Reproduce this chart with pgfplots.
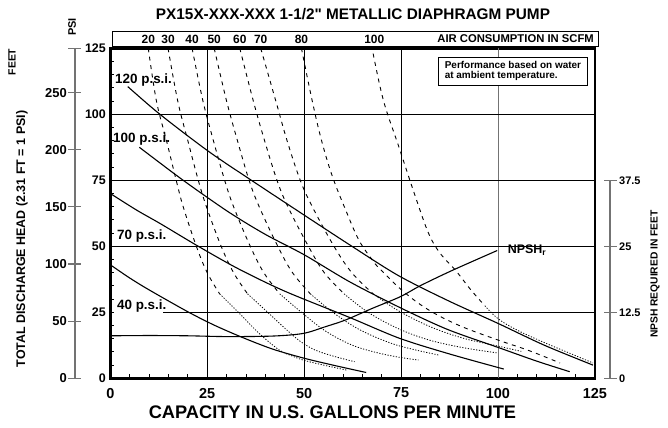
\documentclass[border=0pt]{standalone}
\usepackage{pgfplots}
\pgfplotsset{compat=1.18}
\usepackage{fontspec}
\setmainfont{Liberation Sans}
\newcommand{\fs}[1]{\fontsize{#1}{#1}\selectfont\bfseries}
\newcommand{\sq}{\XeTeXglyph\XeTeXcharglyph"22\relax}
\begin{document}
\begin{tikzpicture}
\path[use as bounding box] (-110.3bp,-49.7bp) rectangle (557.7bp,378.3bp);
% ---------- main axis (PSI vs GPM) ----------
\begin{axis}[
  at={(0,0)}, anchor=south west,
  scale only axis, width=484.6bp, height=330bp,
  xmin=0, xmax=125, ymin=0, ymax=125,
  clip mode=individual,
  axis line style={line width=2.6bp, black},
  xtick={0,25,...,125}, ytick={0,25,...,125},
  minor x tick num=4, minor y tick num=4,
  tick align=inside, xtick pos=left, ytick pos=left,
  major tick length=4bp, minor tick length=4bp,
  tick style={black, line width=0.8bp},
  /pgf/number format/assume math mode=true,
  xticklabel style={font=\fs{14.5}, inner ysep=0pt, yshift=-9.5bp},
  yticklabel style={font=\fs{12.5}, inner xsep=0pt, xshift=-4.3bp},
]
% grid lines
\draw[line width=0.9bp] (axis cs:25,0) -- (axis cs:25,125);
\draw[line width=0.9bp] (axis cs:50,0) -- (axis cs:50,125);
\draw[line width=0.9bp] (axis cs:75,0) -- (axis cs:75,125);
\draw[line width=0.9bp, black!55] (axis cs:100,0) -- (axis cs:100,125);
\draw[line width=0.9bp] (axis cs:0,100) -- (axis cs:125,100);
\draw[line width=0.9bp] (axis cs:0,75) -- (axis cs:125,75);
\draw[line width=0.9bp] (axis cs:0,50) -- (axis cs:125,50);
\draw[line width=0.9bp] (axis cs:13.6,25) -- (axis cs:125,25);

% ---------- air consumption curves (SCFM) ----------
\pgfplotsset{scfm/.style={black, line width=0.9bp, dash pattern=on 4bp off 4.5bp, smooth, tension=0.6},
             scfmdot/.style={black, line width=0.8bp, dash pattern=on 1.2bp off 1.6bp, smooth, tension=0.6}}
% 20 SCFM
\addplot[scfm] coordinates {(9.8,125)(11.9,105)(14.5,90)(17.0,75)(18.8,65)(22.2,50)(25.0,40)(28.2,32)};
\addplot[scfmdot] coordinates {(28.2,32)(33.3,24.6)(38.4,17)(43.6,10.7)(47,8.4)(50,6.8)(55,5.0)(61,3.1)};
% 30 SCFM
\addplot[scfm] coordinates {(14.9,125)(17.4,105)(20.0,90)(22.7,75)(24.8,65)(28.6,50)(31.8,40)(35.4,32)};
\addplot[scfmdot] coordinates {(35.4,32)(40.6,25)(45,19)(49,14)(53,10.6)(58,8.2)(63,6.3)};
% 40 SCFM
\addplot[scfm] coordinates {(21.1,125)(23.9,105)(26.6,90)(29.5,75)(31.8,65)(36.1,50)(39.6,40)(43.7,32)};
\addplot[scfmdot] coordinates {(43.7,32)(49.3,25)(55.4,18)(62,12.8)(68,10)(74,8.1)(79.5,6.9)};
% 50 SCFM
\addplot[scfm] coordinates {(26.8,125)(30.0,105)(32.8,90)(35.8,75)(38.4,65)(43.2,50)(47.0,40)(51.6,32)};
\addplot[scfmdot] coordinates {(51.6,32)(57.4,25)(64.2,18.5)(72,13.5)(78,11)(84.7,8.8)};
% 60 SCFM
\addplot[scfm] coordinates {(33.4,125)(36.9,105)(39.8,90)(43.0,75)(45.8,65)(51.1,50)(55.2,40)(60.3,32)};
\addplot[scfmdot] coordinates {(60.3,32)(66.5,25)(74,19)(82,14.6)(91,11.6)(100,9.6)};
% 70 SCFM
\addplot[scfm] coordinates {(38.8,125)(42.7,105)(45.6,90)(49.0,75)(52.1,65)(57.7,50)(62.3,40)(67.8,32)};
\addplot[scfmdot] coordinates {(67.8,32)(74.4,25.5)(82.6,19.5)(91,15.2)(100,12.2)(106,10.2)};
% 80 SCFM
\addplot[scfm] coordinates {(49.3,125)(52.1,105)(54.5,90)(57.3,76.4)(60.7,63.8)(64.1,52.4)(67.6,44.8)(69.5,41.5)(75.5,33)(82,26)(90,20)(100,14.5)(108,10.5)(116,5.8)};
% 100 SCFM
\addplot[scfm] coordinates {(67.8,123)(70.5,105)(74.4,87.8)(78.7,68.8)(82.1,54.9)(85.1,47.3)(89,41)(93,33.5)(96.6,27.5)};
\addplot[scfmdot] coordinates {(96.6,27.5)(100,22.6)(105,18.2)(112,13.5)(118,9.8)(124.5,5.8)};

% ---------- pump performance curves (air inlet pressure) ----------
\pgfplotsset{perf/.style={black, line width=1.1bp, smooth, tension=0.5}}
\addplot[perf] coordinates {(4.5,110.5)(12.8,100)(25.3,86)(36.4,75)(49.3,62.5)(61.8,50.5)(74.2,39)(87,29.5)(100,20.8)(112,12.5)(124.5,5)};
\addplot[perf] coordinates {(7.5,87.5)(18.8,75)(30.5,63)(40,54.5)(50,46.8)(61.8,36.5)(74.7,26.8)(87,18.5)(100.4,11.5)(110,6.5)(118.5,2.5)};
\addplot[perf] coordinates {(0,70)(6.8,63.7)(13,58.5)(22.7,50)(33,41.5)(45,33)(61.8,23)(74.7,15.1)(88,9)(101.5,3.5)};
\addplot[perf] coordinates {(0,43)(5,38)(10,33.5)(20,25.2)(27,20)(34.7,15.1)(42,11)(50,7.6)(58,4.8)(66,2.2)};
% NPSH required (on the PSI scale: right scale feet = psi/2)
\addplot[perf] coordinates {(0,16.1)(10,16.2)(20,16.1)(30,15.8)(41.9,16.0)(49.8,17.0)(55.6,19.6)(60.7,22.1)(67.6,26.5)(74.8,30.9)(80,35.1)(88.1,40.8)(99.8,48.4)};

% labels on curves
\node[anchor=west, font=\fs{13.5}, inner sep=0pt] at (axis cs:1.2,113) {120 p.s.i.};
\node[anchor=west, font=\fs{13.5}, inner sep=0pt] at (axis cs:0.7,90.6) {100 p.s.i.};
\node[anchor=west, font=\fs{13.5}, inner sep=0pt] at (axis cs:1.7,53.9) {70 p.s.i.};
\node[anchor=west, font=\fs{13.5}, inner sep=0pt] at (axis cs:1.7,27.4) {40 p.s.i.};
\node[anchor=west, font=\fs{12.5}, inner sep=0pt] at (axis cs:102.5,48.6) {NPSH\textsubscript{r}};
% note box
\node[draw=black, line width=1bp, fill=white, anchor=north east, align=left, font=\fs{10},
      inner xsep=6bp, inner ysep=4bp] at (axis cs:123.1,121.6)
      {Performance based on water\\at ambient temperature.};
% air consumption numbers
\node[font=\fs{12}, inner sep=0pt] at ([yshift=9.3bp]axis cs:9.8,125) {20};
\node[font=\fs{12}, inner sep=0pt] at ([yshift=9.3bp]axis cs:14.9,125) {30};
\node[font=\fs{12}, inner sep=0pt] at ([yshift=9.3bp]axis cs:21.1,125) {40};
\node[font=\fs{12}, inner sep=0pt] at ([yshift=9.3bp]axis cs:26.8,125) {50};
\node[font=\fs{12}, inner sep=0pt] at ([yshift=9.3bp]axis cs:33.4,125) {60};
\node[font=\fs{12}, inner sep=0pt] at ([yshift=9.3bp]axis cs:38.8,125) {70};
\node[font=\fs{12}, inner sep=0pt] at ([yshift=9.3bp]axis cs:49.3,125) {80};
\node[font=\fs{12}, inner sep=0pt] at ([yshift=9.3bp]axis cs:68.1,125) {100};
\end{axis}

% ---------- left scale: feet ----------
\begin{axis}[
  at={(-35.3bp,0)}, anchor=south west,
  scale only axis, width=10bp, height=330bp,
  xmin=0, xmax=1, ymin=0, ymax=288.75,
  axis x line=none, axis y line*=left,
  axis line style={black!55, line width=1.1bp},
  ytick={0,50,100,150,200,250,288.75},
  yticklabels={0,50,100,150,200,250,},
  tick align=center, major tick length=13bp,
  tick style={black!55, line width=1.1bp},
  yticklabel style={font=\fs{13}, inner xsep=1.5bp},
]
\end{axis}

% ---------- right scale: NPSH required in feet ----------
\begin{axis}[
  at={(489.7bp,0)}, anchor=south west,
  scale only axis, width=10bp, height=198bp,
  xmin=0, xmax=1, ymin=0, ymax=37.5,
  axis x line=none, axis y line*=right,
  axis line style={black!55, line width=1.1bp},
  ytick={0,12.5,25,37.5},
  yticklabels={0,12.5,25,37.5},
  tick align=center, major tick length=13bp,
  tick style={black!55, line width=1.1bp},
  yticklabel style={font=\fs{11}, inner xsep=2.5bp},
]
\end{axis}

% ---------- texts ----------
\node[font=\fs{15.4}] at (242.7bp,364.3bp) {PX15X-XXX-XXX 1-1/2\sq{} METALLIC DIAPHRAGM PUMP};
\draw[line width=0.9bp] (1.7bp,332.3bp) rectangle (487.7bp,347.3bp);
\node[font=\fs{11.3}, anchor=east, inner sep=0pt] at (483.7bp,339.3bp) {AIR CONSUMPTION IN SCFM};
\node[font=\fs{11}, rotate=90] at (-38.3bp,351.3bp) {PSI};
\node[font=\fs{10.5}, rotate=90] at (-98.3bp,316.3bp) {FEET};
\node[font=\fs{12.5}, rotate=90] at (-88.3bp,139.3bp) {TOTAL DISCHARGE HEAD (2.31 FT = 1 PSI)};
\node[font=\fs{10.3}, rotate=90] at (544.7bp,104.3bp) {NPSH REQUIRED IN FEET};
\node[font=\fs{18.3}] at (222.2bp,-33.7bp) {CAPACITY IN U.S. GALLONS PER MINUTE};
\end{tikzpicture}
\end{document}
